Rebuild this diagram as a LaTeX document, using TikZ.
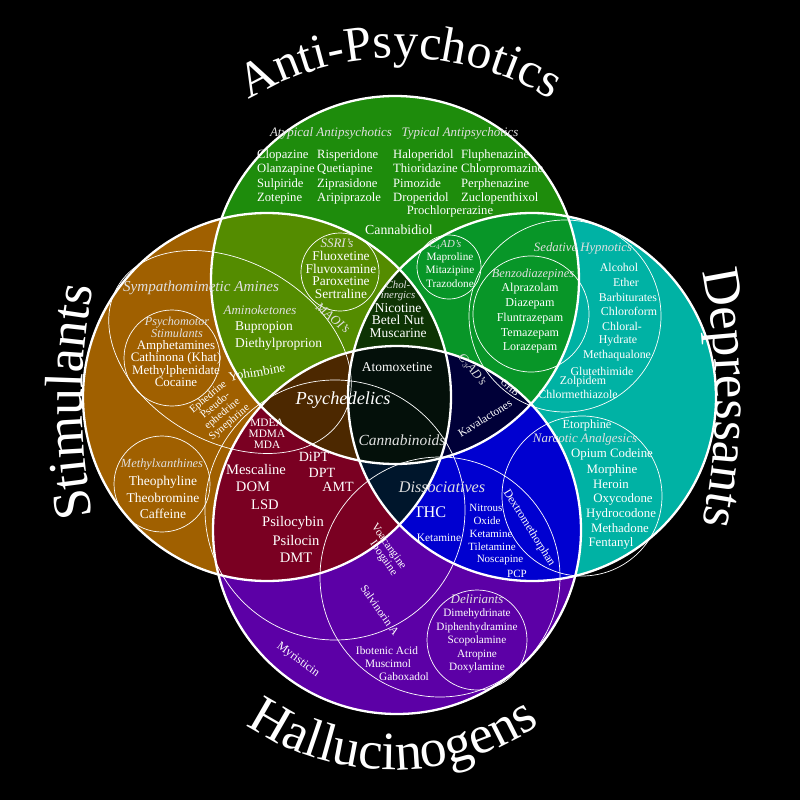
\documentclass[tikz,border=0pt]{standalone}
\usepackage{fontspec}
\setmainfont{Liberation Serif}[Scale=1.08]
\usetikzlibrary{decorations.text}

\newcommand{\fsz}[2]{\fontsize{#1}{#2}\selectfont}
\newcommand{\titlefont}{\fontsize{46}{46}\selectfont}
\newcommand{\Rvenn}{184pt}

\definecolor{colAP}{RGB}{30,140,12}
\definecolor{colST}{RGB}{160,96,0}
\definecolor{colDE}{RGB}{0,178,164}
\definecolor{colHA}{RGB}{92,0,166}
\definecolor{colAPST}{RGB}{84,140,0}
\definecolor{colAPDE}{RGB}{8,150,40}
\definecolor{colSTHA}{RGB}{122,0,34}
\definecolor{colDEHA}{RGB}{0,0,208}
\definecolor{colAPSTDE}{RGB}{14,52,4}
\definecolor{colAPSTHA}{RGB}{76,40,0}
\definecolor{colAPDEHA}{RGB}{0,0,56}
\definecolor{colSTDEHA}{RGB}{0,22,44}
\definecolor{colAll}{RGB}{4,16,10}

\begin{document}
\begin{tikzpicture}[x=1pt, y=-1pt,
  rim/.style={draw=white, line width=2.3pt},
  ring/.style={draw=white, line width=0.7pt},
  drug/.style={text=white, inner sep=0pt, align=center, font=\fsz{12}{14}},
  group/.style={text=white!88!black, inner sep=0pt, align=center, font=\itshape\fsz{12}{12}},
  title/.style={decorate, decoration={text along path, text align=center, text color=white, text={#1}}}]

\fill[black] (0,0) rectangle (800,800);

\coordinate (ap) at (395,280);
\coordinate (st) at (267,397);
\coordinate (de) at (532,397);
\coordinate (ha) at (397,530);

% the four classes
\fill[colAP] (ap) circle[radius=\Rvenn];
\fill[colST] (st) circle[radius=\Rvenn];
\fill[colDE] (de) circle[radius=\Rvenn];
\fill[colHA] (ha) circle[radius=\Rvenn];

% overlaps of two
\begin{scope} \clip (ap) circle[radius=\Rvenn]; \fill[colAPST] (st) circle[radius=\Rvenn]; \end{scope}
\begin{scope} \clip (ap) circle[radius=\Rvenn]; \fill[colAPDE] (de) circle[radius=\Rvenn]; \end{scope}
\begin{scope} \clip (st) circle[radius=\Rvenn]; \fill[colSTHA] (ha) circle[radius=\Rvenn]; \end{scope}
\begin{scope} \clip (de) circle[radius=\Rvenn]; \fill[colDEHA] (ha) circle[radius=\Rvenn]; \end{scope}

% overlaps of three
\begin{scope} \clip (ap) circle[radius=\Rvenn]; \clip (st) circle[radius=\Rvenn]; \fill[colAPSTDE] (de) circle[radius=\Rvenn]; \end{scope}
\begin{scope} \clip (ap) circle[radius=\Rvenn]; \clip (st) circle[radius=\Rvenn]; \fill[colAPSTHA] (ha) circle[radius=\Rvenn]; \end{scope}
\begin{scope} \clip (ap) circle[radius=\Rvenn]; \clip (de) circle[radius=\Rvenn]; \fill[colAPDEHA] (ha) circle[radius=\Rvenn]; \end{scope}
\begin{scope} \clip (st) circle[radius=\Rvenn]; \clip (de) circle[radius=\Rvenn]; \fill[colSTDEHA] (ha) circle[radius=\Rvenn]; \end{scope}

% all four
\begin{scope} \clip (ap) circle[radius=\Rvenn]; \clip (st) circle[radius=\Rvenn]; \clip (de) circle[radius=\Rvenn]; \fill[colAll] (ha) circle[radius=\Rvenn]; \end{scope}

% sub-groups
\draw[ring, rotate around={-30:(230,352)}] (230,352) ellipse[x radius=130pt, y radius=90pt];
\draw[ring] (172,358) circle[radius=48pt];
\draw[ring] (162,484) circle[radius=48pt];
\draw[ring] (340,272) circle[radius=39pt];
\draw[ring] (449,267) circle[radius=32pt];
\draw[ring] (565,316) circle[radius=96pt];
\draw[ring] (531,314) circle[radius=58pt];
\draw[ring] (582,496) circle[radius=80pt];
\draw[ring] (335,510) circle[radius=130pt];
\draw[ring] (440,577) circle[radius=120pt];
\draw[ring] (477,640) circle[radius=50pt];

\draw[rim] (ap) circle[radius=\Rvenn];
\draw[rim] (st) circle[radius=\Rvenn];
\draw[rim] (de) circle[radius=\Rvenn];
\draw[rim] (ha) circle[radius=\Rvenn];

% titles
\path[title={|\titlefont|Anti-Psychotics}, shift={(400,353)}] (165:295pt) arc[start angle=165, end angle=15, radius=295pt];
\path[title={|\fsz{50}{50}|Stimulants}, shift={(682,402)}] (195:600pt) arc[start angle=195, end angle=165, radius=600pt];
\path[title={|\fsz{49}{49}|Depressants}, shift={(116,398)}] (15:600pt) arc[start angle=15, end angle=-15, radius=600pt];
\path[title={|\fsz{50}{50}|Hallucinogens}, shift={(393,510)}] (215:260pt) arc[start angle=215, end angle=325, radius=260pt];

% anti-psychotics
\node[group] (atypical) at (331,133) {Atypical Antipsychotics};
\node[group] (typical) at (460,133) {Typical Antipsychotics};
\node[drug, align=left, anchor=west, font=\fsz{11.7}{14.3}] (atypA) at (257,177) {Clopazine\\Olanzapine\\Sulpiride\\Zotepine};
\node[drug, align=left, anchor=west, font=\fsz{11.7}{14.3}] (atypB) at (317,177) {Risperidone\\Quetiapine\\Ziprasidone\\Aripiprazole};
\node[drug, align=left, anchor=west, font=\fsz{11.7}{14.3}] (typA) at (393,177) {Haloperidol\\Thioridazine\\Pimozide\\Droperidol};
\node[drug, align=left, anchor=west, font=\fsz{11.7}{14.3}] (typB) at (461,177) {Fluphenazine\\Chlorpromazine\\Perphenazine\\Zuclopenthixol};
\node[drug, font=\fsz{11.7}{14}] (prochlor) at (450,211) {Prochlorperazine};
\node[drug, font=\fsz{12.8}{14}] (cannabidiol) at (399,230) {Cannabidiol};

\node[group] (ssri) at (337,243) {SSRI's};
\node[drug, font=\fsz{12.4}{12.4}] (ssrilist) at (341,275) {Fluoxetine\\Fluvoxamine\\Paroxetine\\Sertraline};
\node[group, font=\itshape\fsz{10}{10}] (cfour) at (445,245) {C$_4$AD's};
\node[drug, font=\fsz{10.4}{13.5}] (cfourlist) at (450,270) {Maproline\\Mitazipine\\Trazodone};
\node[group, font=\itshape\fsz{10}{9.5}] (cholin) at (398,291) {Chol-\\inergics};
\node[drug, font=\fsz{12.5}{12.5}] (chollist) at (398,320.5) {Nicotine\\Betel Nut\\Muscarine};

% stimulants
\node[group, font=\itshape\fsz{14}{14}] (sympath) at (201,288) {Sympathomimetic Amines};
\node[group] (aminoket) at (260,310) {Aminoketones};
\node[drug, align=left, anchor=west, font=\fsz{12.5}{17}] (aminolist) at (235,335.5) {Bupropion\\Diethylproprion};
\node[group, rotate=-40] (maoi) at (333,318) {MAOI's};
\node[group, font=\itshape\fsz{11.3}{11}] (psychomotor) at (177,327.5) {Psychomotor\\Stimulants};
\node[drug, font=\fsz{12}{12.3}] (psychlist) at (176,363.5) {Amphetamines\\Cathinona (Khat)\\Methylphenidate\\Cocaine};
\node[drug, rotate=10] (yohimbine) at (257,372) {Yohimbine};
\node[drug, rotate=40, font=\fsz{10}{11}] (ephedrine) at (219,410) {Ephedrine\\Pseudo-\\ephedrine\\Synephrine};
\node[group, font=\itshape\fsz{11.5}{12}] (methylx) at (162,465) {Methylxanthines};
\node[drug, font=\fsz{12.5}{16.5}] (methyllist) at (163,497.5) {Theophyline\\Theobromine\\Caffeine};

% middle
\node[group, font=\itshape\fsz{17}{17}, text=white] (psychedelics) at (343,400) {Psychedelics};
\node[drug, font=\fsz{12.5}{14}] (atomox) at (397,367) {Atomoxetine};
\node[group, font=\itshape\fsz{14.3}{14}] (cannabinoids) at (402,440) {Cannabinoids};
\node[drug, font=\fsz{10.5}{11}] (mdma) at (267,434) {MDEA\\MDMA\\MDA};
\node[drug, font=\fsz{13}{14}] (dipt) at (314,457) {DiPT};
\node[drug, font=\fsz{13}{14}] (dpt) at (322,473) {DPT};
\node[drug, font=\fsz{13}{14}] (amt) at (338,487) {AMT};
\node[drug, font=\fsz{13.5}{14}] (mescaline) at (256,470) {Mescaline};
\node[drug, font=\fsz{13.5}{14}] (dom) at (253,487) {DOM};
\node[drug, font=\fsz{13.5}{14}] (lsd) at (265,505) {LSD};
\node[drug, font=\fsz{13.5}{14}] (psilocybin) at (293,523) {Psilocybin};
\node[drug, font=\fsz{13.5}{14}] (psilocin) at (296,541) {Psilocin};
\node[drug, font=\fsz{13.5}{14}] (dmt) at (296,558) {DMT};
\node[drug, rotate=-55, align=right, font=\fsz{10.5}{11}] (voacangine) at (384,550) {Voacangine\\Ibogaine};

% dissociatives
\node[group, font=\itshape\fsz{15}{15}] (dissoc) at (442,487) {Dissociatives};
\node[drug, font=\fsz{15}{15}] (thc) at (430,512) {THC};
\node[drug, font=\fsz{10.5}{12}] (ketamineA) at (439,538) {Ketamine};
\node[drug, font=\fsz{10.2}{12}] (nitrous) at (486,508) {Nitrous};
\node[drug, font=\fsz{10.2}{12}] (oxide) at (487,521) {Oxide};
\node[drug, font=\fsz{10.2}{12}] (ketamineB) at (491,534) {Ketamine};
\node[drug, font=\fsz{10.2}{12}] (tiletamine) at (492,547) {Tiletamine};
\node[drug, font=\fsz{10.2}{12}] (noscapine) at (500,560) {Noscapine};
\node[drug, font=\fsz{10.2}{12}] (pcp) at (517,574) {PCP};
\node[drug, rotate=-58, font=\fsz{10.8}{11}] (dextro) at (529,528) {Dextromethorphan};

% depressants
\node[drug, font=\fsz{11.5}{12}] (etorphine) at (587,426) {Etorphine};
\node[group] (narcotic) at (585,439) {Narcotic Analgesics};
\node[drug, font=\fsz{11.9}{12}] (opium) at (612,454) {Opium Codeine};
\node[drug, font=\fsz{11.9}{12}] (morphine) at (612,470) {Morphine};
\node[drug, font=\fsz{11.9}{12}] (heroin) at (611,484) {Heroin};
\node[drug, font=\fsz{11.9}{12}] (oxycodone) at (623,499) {Oxycodone};
\node[drug, font=\fsz{11.9}{12}] (hydrocodone) at (621,514) {Hydrocodone};
\node[drug, font=\fsz{11.9}{12}] (methadone) at (620,528) {Methadone};
\node[drug, font=\fsz{11.9}{12}] (fentanyl) at (611,543) {Fentanyl};

\node[group, font=\itshape\fsz{11.8}{12}] (sedative) at (583,248) {Sedative Hypnotics};
\node[group, font=\itshape\fsz{11.4}{12}] (benzo) at (533,275) {Benzodiazepines};
\node[drug, font=\fsz{11.2}{14.75}] (benzolist) at (530,318.5) {Alprazolam\\Diazepam\\Fluntrazepam\\Temazepam\\Lorazepam};
\node[drug, font=\fsz{11}{12}] (alcohol) at (619,267) {Alcohol};
\node[drug, font=\fsz{11}{12}] (ether) at (626,282) {Ether};
\node[drug, font=\fsz{11}{12}] (barbiturates) at (628,297) {Barbiturates};
\node[drug, font=\fsz{11}{12}] (chloroform) at (629,311) {Chloroform};
\node[drug, font=\fsz{11}{12}] (chloral) at (622,326) {Chloral-};
\node[drug, font=\fsz{11}{12}] (hydrate) at (618,341) {Hydrate};
\node[drug, font=\fsz{11}{12}] (methaqualone) at (617,356) {Methaqualone};
\node[drug, font=\fsz{11}{12}] (glutethimide) at (602,371) {Glutethimide};
\node[drug, font=\fsz{11}{12}] (zolpidem) at (583,382) {Zolpidem};
\node[drug, font=\fsz{11}{12}] (chlormeth) at (578,394) {Chlormethiazole};
\node[group, rotate=-50, font=\itshape\fsz{11.5}{12}] (cthree) at (472,370) {C$_3$AD's};
\node[drug, rotate=-40, font=\fsz{9}{9}] (ghb) at (510,388) {GHB};
\node[drug, rotate=32, font=\fsz{10.5}{11}] (kava) at (485,418) {Kavalactones};

% hallucinogens
\node[group] (deliriants) at (477,599) {Deliriants};
\node[drug, font=\fsz{10.4}{13.5}] (delirlist) at (477,641) {Dimehydrinate\\Diphenhydramine\\Scopolamine\\Atropine\\Doxylamine};
\node[drug, font=\fsz{10.5}{12}] (ibotenic) at (387,651) {Ibotenic Acid};
\node[drug, font=\fsz{10.5}{12}] (muscimol) at (388,664) {Muscimol};
\node[drug, font=\fsz{10.5}{12}] (gaboxadol) at (404,677) {Gaboxadol};
\node[drug, rotate=-55, font=\fsz{10.5}{11}] (salvinorin) at (380,610) {Salvinorin A};
\node[drug, rotate=-36, font=\fsz{11}{11}] (myristicin) at (298,660) {Myristicin};
\end{tikzpicture}
\end{document}
